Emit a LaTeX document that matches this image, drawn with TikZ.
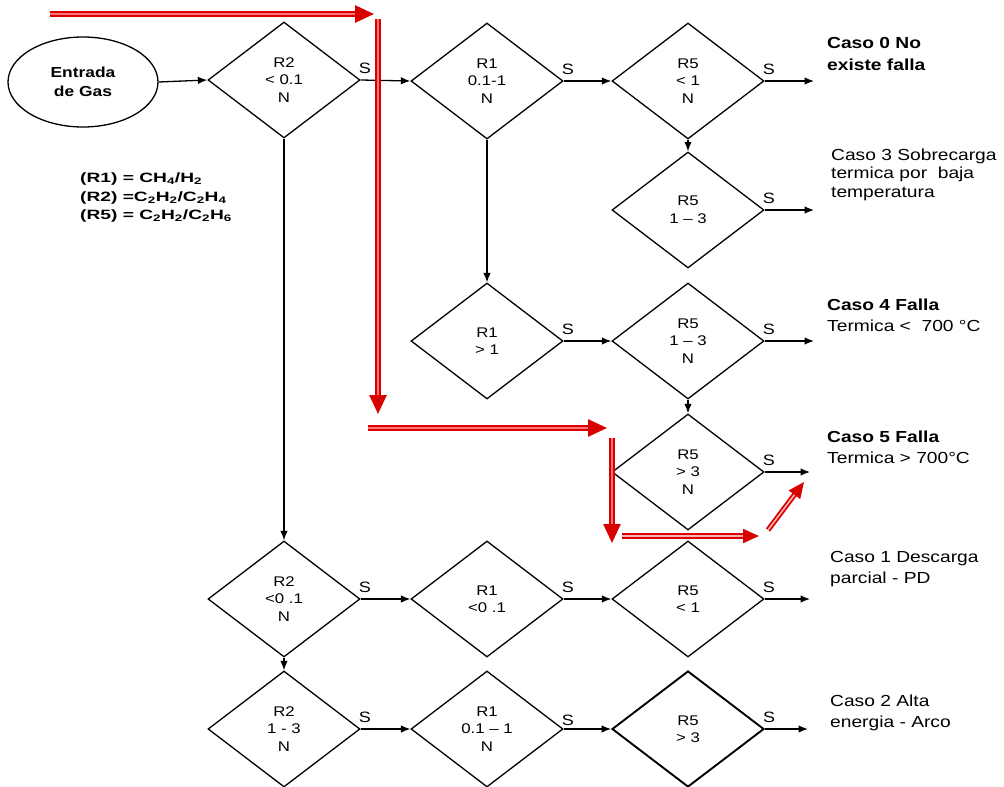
\documentclass[tikz,border=0pt]{standalone}
\usepackage{fontspec}
\setmainfont{Liberation Sans}
\newfontfamily\widesans[FakeStretch=1.2]{Liberation Sans}
\newfontfamily\widersans[FakeStretch=1.42]{Liberation Sans}
\usetikzlibrary{shapes.geometric, arrows.meta}

\begin{document}
\begin{tikzpicture}[x=1pt, y=-1pt,
  dec/.style={diamond, draw, line width=1.3pt, minimum width=152pt,
    minimum height=116pt, inner sep=0pt, align=center,
    font=\widesans\fontsize{14}{17.5}\selectfont},
  startnode/.style={ellipse, draw, line width=1.3pt, minimum width=150pt,
    minimum height=90pt, inner sep=0pt, align=center,
    font=\widesans\bfseries\fontsize{14.5}{19}\selectfont},
  arr/.style={line width=1.3pt, -{Latex[length=9.5pt,width=7.5pt]}},
  yes/.style={anchor=base west, inner sep=0pt, xshift=-2pt, yshift=7pt,
    font=\widesans\fontsize{15}{15}\selectfont},
  caselbl/.style={anchor=base west, align=left, inner sep=0pt,
    font=\widesans\fontsize{16}{21}\selectfont},
  legend/.style={anchor=base west, inner sep=0pt,
    font=\widersans\bfseries\fontsize{13.5}{13.5}\selectfont},
  redarr/.style={draw=red!85!black, double=red!55, double distance=1.4pt,
    line width=2.6pt, -{Triangle[length=19pt,width=17pt]}},
  redthin/.style={draw=red!85!black, double=red!30, double distance=1.6pt,
    line width=1.8pt, -{Triangle[length=16pt,width=14pt]}}
]
\fill[white] (0,0) rectangle (1004,787);
\useasboundingbox (0,0) rectangle (1004,787);

% start of the procedure
\node[startnode] (gas) at (83,82) {Entrada\\de Gas};

% decision nodes
\node[dec] (A) at (284,80) {R2\\< 0.1\\N};
\node[dec] (B) at (487,81) {R1\\0.1-1\\N};
\node[dec] (C) at (688,81) {R5\\< 1\\N};
\node[dec] (D) at (688,210) {R5\\1 \textendash{} 3};
\node[dec] (E) at (487,341) {R1\\> 1};
\node[dec] (F) at (688,341) {R5\\1 \textendash{} 3\\N};
\node[dec] (G) at (688,472) {R5\\> 3\\N};
\node[dec] (H) at (284,599) {R2\\<0 .1\\N};
\node[dec] (I) at (487,599) {R1\\<0 .1};
\node[dec] (J) at (688,599) {R5\\< 1};
\node[dec] (K) at (284,729) {R2\\1 - 3\\N};
\node[dec] (L) at (487,729) {R1\\0.1 \textendash{} 1\\N};
\node[dec, line width=1.9pt] (M) at (688,729) {R5\\> 3};

% gas ratio legend
\node[legend] (l1) at (80,182) {(R1) = CH\textsubscript{4}/H\textsubscript{2}};
\node[legend] (l2) at (80,201) {(R2) =C\textsubscript{2}H\textsubscript{2}/C\textsubscript{2}H\textsubscript{4}};
\node[legend] (l3) at (80,219) {(R5) = C\textsubscript{2}H\textsubscript{2}/C\textsubscript{2}H\textsubscript{6}};

% diagnosis results
\node[caselbl, font=\widesans\bfseries\fontsize{16}{22}\selectfont] (c0) at (827,70) {Caso 0 No\\existe falla};
\node[caselbl, font=\widesans\fontsize{16}{18.5}\selectfont] (c3) at (831,197) {Caso 3 Sobrecarga\\termica por\ \ baja\\temperatura};
\node[caselbl] (c4) at (827,331) {{\bfseries Caso 4 Falla}\\Termica <\ \ 700 °C};
\node[caselbl] (c5) at (827,463) {{\bfseries Caso 5 Falla}\\Termica > 700°C};
\node[caselbl] (c1) at (830,583) {Caso 1 Descarga\\parcial - PD};
\node[caselbl] (c2) at (830,727) {Caso 2 Alta\\energia - Arco};

% arrow ends at the result column
\coordinate (e0) at (814,81);
\coordinate (e3) at (814,210);
\coordinate (e4) at (814,341);
\coordinate (e5) at (810,472);
\coordinate (e1) at (810,599);
\coordinate (e2) at (808,729);

% flow connectors
\draw[arr] (gas.east) -- (A.west);
\draw[arr] (A.east) -- (B.west);
\draw[arr] (B.east) -- (C.west);
\draw[arr] (C.east) -- (e0);
\draw[arr] (C.south) -- (D.north);
\draw[arr] (D.east) -- (e3);
\draw[arr] (B.south) -- (E.north);
\draw[arr] (E.east) -- (F.west);
\draw[arr] (F.east) -- (e4);
\draw[arr] (F.south) -- (G.north);
\draw[arr] (G.east) -- (e5);
\draw[arr] (A.south) -- (H.north);
\draw[arr] (H.east) -- (I.west);
\draw[arr] (I.east) -- (J.west);
\draw[arr] (J.east) -- (e1);
\draw[arr] (H.south) -- (K.north);
\draw[arr] (K.east) -- (L.west);
\draw[arr] (L.east) -- (M.west);
\draw[arr] (M.east) -- (e2);

% yes labels
\foreach \n in {A,B,C,D,E,F,G,H,I,J,K,M}
  \node[yes] at (\n.east) {S};
\node[yes, yshift=-3pt] at (L.east) {S};

% highlighted path
\coordinate (r1s) at (50,14);
\coordinate (r1e) at (374,14);
\coordinate (r2s) at (378,19);
\coordinate (r2e) at (378,414);
\coordinate (r3s) at (368,428);
\coordinate (r3e) at (607,428);
\coordinate (r4s) at (612,438);
\coordinate (r4e) at (612,543);
\coordinate (r5s) at (622,536);
\coordinate (r5e) at (759,536);
\coordinate (r6s) at (768,530);
\coordinate (r6e) at (804,482);
\draw[redarr] (r1s) -- (r1e);
\draw[redarr] (r2s) -- (r2e);
\draw[redarr] (r3s) -- (r3e);
\draw[redarr] (r4s) -- (r4e);
\draw[redthin] (r5s) -- (r5e);
\draw[redthin] (r6s) -- (r6e);
\end{tikzpicture}
\end{document}
